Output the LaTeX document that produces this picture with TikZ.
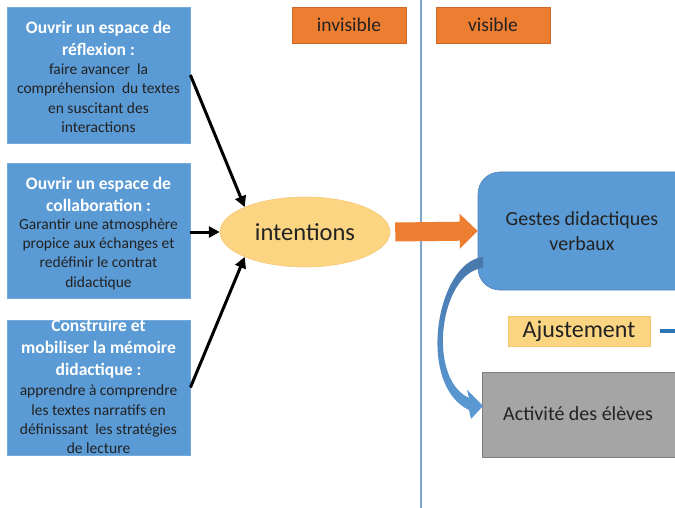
\documentclass[tikz,border=0pt]{standalone}
\usepackage{fontspec}
\setmainfont{Carlito}
\usetikzlibrary{arrows.meta,shapes.geometric}
\definecolor{boxblue}{HTML}{5B9BD5}
\definecolor{orng}{HTML}{ED7D31}
\definecolor{gold}{HTML}{FCD582}
\definecolor{goldline}{HTML}{F4C46C}
\definecolor{grayfill}{HTML}{A5A5A5}
\definecolor{grayline}{HTML}{7F7F7F}
\definecolor{sepline}{HTML}{7BA6D0}
\definecolor{darkblue}{HTML}{2E75B6}
\definecolor{curvetop}{HTML}{4878AC}
\definecolor{curvebot}{HTML}{5B9BD5}
\definecolor{txt}{HTML}{222222}
\begin{document}
\begin{tikzpicture}[x=1pt,y=-1pt,
  bluebox/.style={fill=boxblue,draw=boxblue!85!white,line width=0.8pt,minimum width=183pt,inner sep=0pt},
  titletxt/.style={text=white,font=\fontsize{17.5}{22}\selectfont\bfseries,align=center,inner sep=0pt},
  bodytxt/.style={text=txt,font=\fontsize{15.5}{19.4}\selectfont,align=center,inner sep=0pt},
  tagbox/.style={fill=orng,draw=orng!85!black,line width=0.5pt,minimum width=114pt,minimum height=36pt,text=txt,font=\fontsize{19.5}{22}\selectfont,inner sep=0pt},
  blackarrow/.style={line width=3pt,-{Triangle[length=11pt,width=11pt]}}
]
\useasboundingbox (0,0) rectangle (675,508);
\clip (0,0) rectangle (675,508);
\fill[white] (0,0) rectangle (675,508);

% separator
\coordinate (sepTop) at (421,0);
\coordinate (sepBot) at (421,508);
\draw[sepline,line width=2pt] (sepTop) -- (sepBot);

% left boxes
\node[bluebox,minimum height=136pt] (b1) at (98.5,75) {};
\node[titletxt] (b1t) at (98.5,38) {Ouvrir un espace de\\réflexion :};
\node[bodytxt] (b1b) at (98.5,98) {faire avancer\ \ la\\compréhension\ \ du textes\\en suscitant des\\interactions};

\node[bluebox,minimum height=135pt] (b2) at (98.5,230.5) {};
\node[titletxt] (b2t) at (98.5,194) {Ouvrir un espace de\\collaboration :};
\node[bodytxt] (b2b) at (98.5,254) {Garantir une atmosphère\\propice aux échanges et\\redéfinir le contrat\\didactique};

\node[bluebox,minimum height=135pt] (b3) at (98.5,387.5) {};
\node[titletxt] (b3t) at (98.5,348.5) {Construire et\\mobiliser la mémoire\\didactique :};
\node[bodytxt] (b3b) at (98.5,419.5) {apprendre à comprendre\\les textes narratifs en\\définissant\ \ les stratégies\\de lecture};

% tags
\node[tagbox] (inv) at (349,25) {invisible};
\node[tagbox] (vis) at (493,25) {visible};

% ellipse
\node[ellipse,fill=gold,draw=goldline,line width=0.5pt,minimum width=170pt,minimum height=70pt,inner sep=0pt,text=txt,font=\fontsize{24.5}{28}\selectfont] (int) at (305,232) {intentions};

% black arrows
\draw[blackarrow] (b1.east) -- (int.north west);
\draw[blackarrow] (b2.east |- int.west) -- (int.west);
\draw[blackarrow] (b3.east) -- (int.south west);

% gestes box
\node[fill=boxblue,draw=boxblue!85!black,line width=0.6pt,rounded corners=22pt,minimum width=222pt,minimum height=118pt,inner sep=0pt] (gest) at (589,231) {};
\node[text=txt,font=\fontsize{20}{24.5}\selectfont,align=center,inner sep=0pt] (gestt) at (582,231) {Gestes didactiques\\verbaux};

% orange block arrow
\draw[orng,line width=19pt,-{Triangle[length=18pt,width=34pt]}] ([xshift=5pt]int.east) -- (gest.west);

% ajustement
\node[fill=gold,draw=goldline,line width=0.6pt,minimum width=142pt,minimum height=30pt,inner sep=0pt,text=txt,font=\fontsize{24}{28}\selectfont] (aj) at (579,331) {Ajustement};
\coordinate (ajR) at (690,331);
\draw[darkblue,line width=4pt] ([xshift=10pt]aj.east) -- (ajR);

% activite
\node[fill=grayfill,draw=grayline,line width=0.8pt,minimum width=200pt,minimum height=85pt,inner sep=0pt] (act) at (582,414.5) {};
\node[text=txt,font=\fontsize{20}{24}\selectfont,inner sep=0pt] (actt) at (578,414) {Activité des élèves};

% curved arrow
\shade[top color=curvetop,bottom color=curvebot] (483,257) .. controls (436,262) and (416,385) .. (469,410)
  -- (471,419) -- (483,406) -- (467,390) -- (469,398)
  .. controls (426,378) and (440,272) .. (483,268) -- cycle;
\end{tikzpicture}
\end{document}
